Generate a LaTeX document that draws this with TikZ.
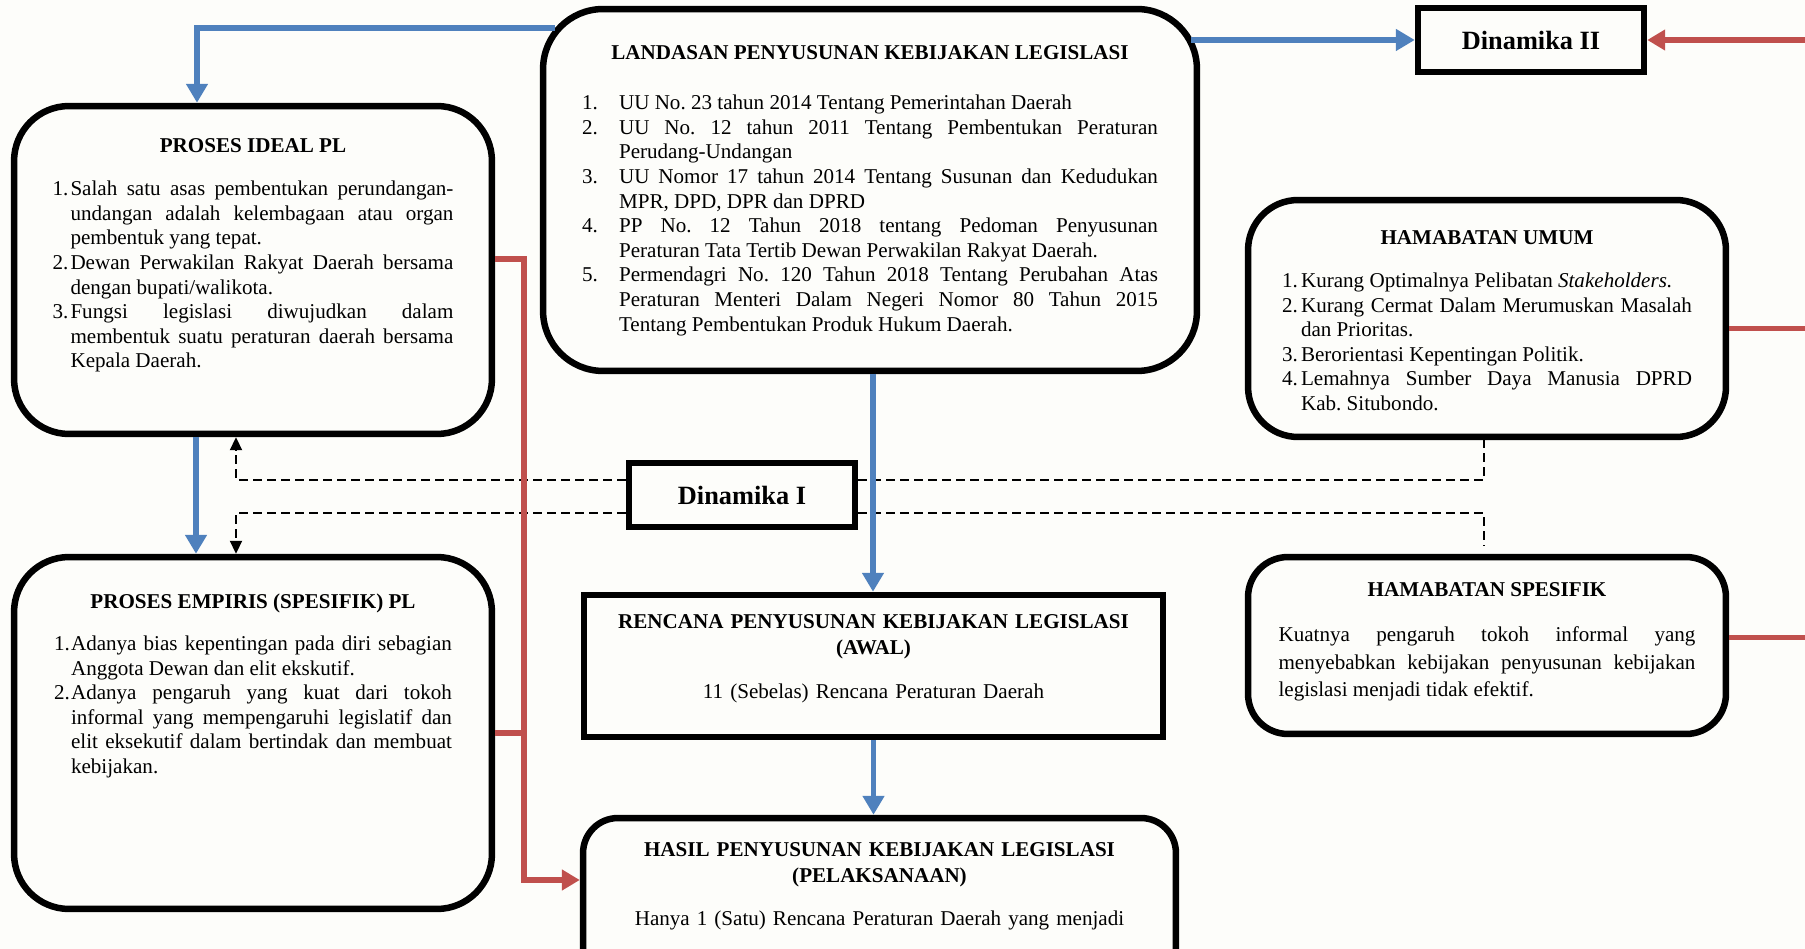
\documentclass[tikz,border=0pt]{standalone}
\usepackage{fontspec}
\setmainfont{Liberation Serif}
\usetikzlibrary{arrows.meta,positioning,calc}
\definecolor{flowblue}{RGB}{79,129,189}
\definecolor{flowred}{RGB}{192,80,77}
\definecolor{paper}{RGB}{253,253,250}
\frenchspacing
\newcommand{\itm}[3]{\par\noindent\hangindent=#1\hangafter=1\makebox[#1][l]{#2}#3\par}
\tikzset{
  rbox/.style={draw=black, line width=0.13cm, rounded corners=#1},
  sbox/.style={draw=black, line width=0.13cm},
  txt/.style={inner sep=0pt, align=justify, font=\fontsize{12}{14}\selectfont},
  ctxt/.style={inner sep=0pt, align=center, font=\fontsize{12}{14.8}\selectfont},
  dinbox/.style={sbox, minimum width=4.52cm, font=\fontsize{15}{17}\selectfont\bfseries},
  bluearr/.style={-{Triangle[length=0.38cm,width=0.42cm]}, flowblue, line width=0.11cm},
  redarr/.style={-{Triangle[length=0.36cm,width=0.4cm]}, flowred, line width=0.11cm},
  redln/.style={flowred, line width=0.11cm},
  dashln/.style={black, line width=0.04cm, dash pattern=on 0.17cm off 0.11cm},
  dasharr/.style={dashln, -{Triangle[length=0.26cm,width=0.24cm]}},
}
\begin{document}
\begin{tikzpicture}[x=0.02cm, y=-0.02cm]
  \useasboundingbox (0,0) rectangle (1805,949);
  \clip (0,0) rectangle (1805,949);
  \fill[paper] (0,0) rectangle (1805,949);
  \coordinate (edge) at (1805,0);

  % boxes
  \node[rbox=1.2cm, minimum width=13.08cm, minimum height=7.24cm] (landasan) at (870,190) {};
  \node[rbox=1.1cm, minimum width=9.56cm, minimum height=6.56cm] (ideal) at (253,270) {};
  \node[rbox=1.1cm, minimum width=9.56cm, minimum height=7.04cm] (empiris) at (253,733) {};
  \node[rbox=1cm, minimum width=9.56cm, minimum height=4.74cm] (umum) at (1487,318.5) {};
  \node[rbox=0.8cm, minimum width=9.56cm, minimum height=3.54cm] (spesifik) at (1487,645.5) {};
  \node[sbox, minimum width=11.58cm, minimum height=2.84cm] (rencana) at (873.5,666) {};
  \node[rbox=0.7cm, minimum width=11.86cm, minimum height=4cm] (hasil) at (879.5,918) {};
  \node[dinbox, minimum height=1.28cm] (din2) at (1531,40) {Dinamika II};
  \node[dinbox, minimum height=1.28cm] (din1) at (742,495) {Dinamika I};

  % texts
  \node[txt, text width=11.52cm, below=0.79cm of landasan.north] (landasantxt) {%
    {\centering\textbf{LANDASAN PENYUSUNAN KEBIJAKAN LEGISLASI}\par}\vskip14.5pt
    \itm{0.74cm}{1.}{UU No. 23 tahun 2014 Tentang Pemerintahan Daerah}
    \itm{0.74cm}{2.}{UU No. 12 tahun 2011 Tentang Pembentukan Peraturan\linebreak Perudang-Undangan}
    \itm{0.74cm}{3.}{UU Nomor 17 tahun 2014 Tentang Susunan dan Kedudukan\linebreak MPR, DPD, DPR dan DPRD}
    \itm{0.74cm}{4.}{PP No. 12 Tahun 2018 tentang Pedoman Penyusunan\linebreak Peraturan Tata Tertib Dewan Perwakilan Rakyat Daerah.}
    \itm{0.74cm}{5.}{Permendagri No. 120 Tahun 2018 Tentang Perubahan Atas\linebreak Peraturan Menteri Dalam Negeri Nomor 80 Tahun 2015\linebreak Tentang Pembentukan Produk Hukum Daerah.}};
  \node[txt, text width=8.02cm, below=0.71cm of ideal.north] (idealtxt) {%
    {\centering\textbf{PROSES IDEAL PL}\par}\vskip10.5pt
    \itm{0.36cm}{1.}{Salah satu asas pembentukan perundangan-\linebreak undangan adalah kelembagaan atau organ\linebreak pembentuk yang tepat.}
    \itm{0.36cm}{2.}{Dewan Perwakilan Rakyat Daerah bersama\linebreak dengan bupati/walikota.}
    \itm{0.36cm}{3.}{Fungsi legislasi diwujudkan dalam\linebreak membentuk suatu peraturan daerah bersama\linebreak Kepala Daerah.}};
  \node[txt, text width=7.96cm, below=0.79cm of empiris.north] (empiristxt) {%
    {\centering\textbf{PROSES EMPIRIS (SPESIFIK) PL}\par}\vskip10pt
    \itm{0.34cm}{1.}{Adanya bias kepentingan pada diri sebagian\linebreak Anggota Dewan dan elit ekskutif.}
    \itm{0.34cm}{2.}{Adanya pengaruh yang kuat dari tokoh\linebreak informal yang mempengaruhi legislatif dan\linebreak elit eksekutif dalam bertindak dan membuat\linebreak kebijakan.}};
  \node[txt, text width=8.2cm, below=0.67cm of umum.north] (umumtxt) {%
    {\centering\textbf{HAMABATAN UMUM}\par}\vskip10.5pt
    \itm{0.38cm}{1.}{Kurang Optimalnya Pelibatan \textit{Stakeholders.}}
    \itm{0.38cm}{2.}{Kurang Cermat Dalam Merumuskan Masalah\linebreak dan Prioritas.}
    \itm{0.38cm}{3.}{Berorientasi Kepentingan Politik.}
    \itm{0.38cm}{4.}{Lemahnya Sumber Daya Manusia DPRD\linebreak Kab. Situbondo.}};
  \node[txt, text width=8.34cm, below=0.57cm of spesifik.north, font=\fontsize{12}{15.7}\selectfont] (spesifiktxt) {%
    {\centering\textbf{HAMABATAN SPESIFIK}\par}\vskip10pt
    \noindent Kuatnya pengaruh tokoh informal yang\linebreak menyebabkan kebijakan penyusunan kebijakan\linebreak legislasi menjadi tidak efektif.\par};
  \node[ctxt, text width=11cm, below=0.45cm of rencana.north] (rencanatxt) {%
    \textbf{RENCANA PENYUSUNAN KEBIJAKAN LEGISLASI}\\\textbf{(AWAL)}\\[10pt]
    11 (Sebelas) Rencana Peraturan Daerah};
  \node[ctxt, text width=11cm, below=0.55cm of hasil.north] (hasiltxt) {%
    \textbf{HASIL PENYUSUNAN KEBIJAKAN LEGISLASI}\\\textbf{(PELAKSANAAN)}\\[9.5pt]
    Hanya 1 (Satu) Rencana Peraturan Daerah yang menjadi};

  % dashed links round Dinamika I
  \draw[dasharr] (din1.west |- 0,480) -| (ideal.south -| 236,0);
  \draw[dasharr] (din1.west |- 0,513) -| (empiris.north -| 236,0);
  \draw[dashln] (din1.east |- 0,480) -| (umum.south -| 1484,0);
  \draw[dashln] (din1.east |- 0,513) -| ($(spesifik.north -| 1484,0)+(0,-8)$);

  % blue flow
  \draw[bluearr] ($(landasan.north west)+(15,22)$) -| ($(ideal.north)+(-56,0)$);
  \draw[bluearr] ($(din2.west -| landasan.east)+(-9,0)$) -- (din2.west);
  \draw[bluearr] ($(ideal.south)+(-57,0)$) -- ($(empiris.north)+(-57,0)$);
  \draw[bluearr] (landasan.south -| 873,0) -- (rencana.north -| 873,0);
  \draw[bluearr] (rencana.south) -- (rencana.south |- hasil.north);

  % red flow
  \coordinate (rj) at (524,880);
  \draw[redarr] ($(ideal.east)+(0,-11)$) -| (rj) -- (rj -| hasil.west);
  \draw[redln] (empiris.east) -- (empiris.east -| rj);
  \draw[redarr] (din2.east -| edge) -- (din2.east);
  \draw[redln] ($(umum.east)+(0,10)$) coordinate (u1) -- (u1 -| edge);
  \draw[redln] ($(spesifik.east)+(0,-8)$) coordinate (s1) -- (s1 -| edge);
\end{tikzpicture}
\end{document}
